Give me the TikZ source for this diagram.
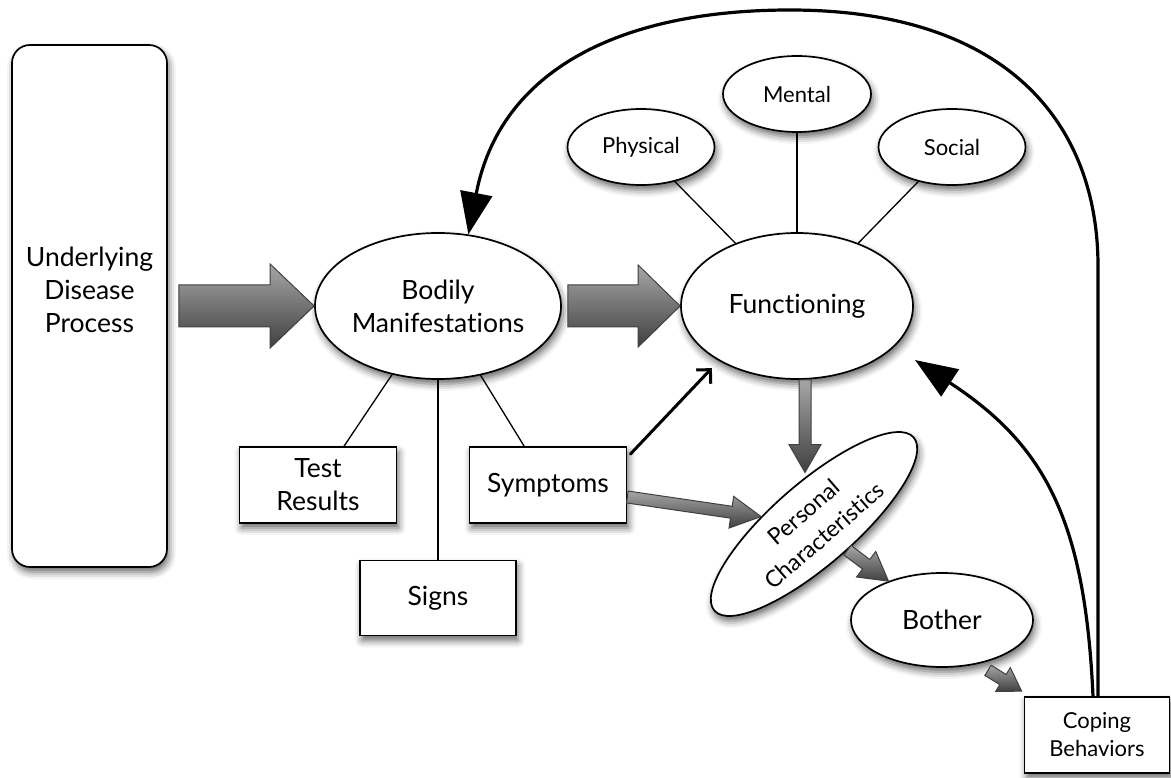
\documentclass[tikz,border=0pt]{standalone}
\usepackage{fontspec}
\setmainfont{Lato}[Ligatures={NoCommon}]
\usepackage{tikz}
\usetikzlibrary{arrows.meta, calc, shapes.geometric, shadows.blur}

\newcommand{\bigfont}{\fontsize{26.5}{33}\selectfont}
\newcommand{\smallfont}{\fontsize{22}{28}\selectfont}
\newcommand{\tiltfont}{\fontsize{23}{31}\selectfont}

\tikzset{
	box/.style={draw, line width=1.7pt, fill=white, align=center, inner sep=0pt, font=\bigfont,
		blur shadow={shadow xshift=2pt, shadow yshift=-5pt, shadow blur radius=7pt, shadow opacity=60}},
	bubble/.style={box, ellipse},
	link/.style={line width=1.3pt},
	loop arrow/.style={line width=3.2pt, -{Triangle[length=42pt, width=32pt]}},
	fat arrow/.style={line width=1pt, draw=black!75, top color=black!35, bottom color=black!75, line join=miter},
}

% fat gray arrow: from, to, half shaft, half head, head length
\newcommand{\fatarrow}[5]{%
	\coordinate (fa-a) at (#1);
	\coordinate (fa-b) at (#2);
	\coordinate (fa-c) at ($(fa-b)!#5!(fa-a)$);
	\path[fat arrow] ($(fa-a)!#3!90:(fa-b)$) -- ($(fa-c)!#3!-90:(fa-a)$) -- ($(fa-c)!#4!-90:(fa-a)$) -- (fa-b)
		-- ($(fa-c)!#4!90:(fa-a)$) -- ($(fa-c)!#3!90:(fa-a)$) -- ($(fa-a)!#3!-90:(fa-b)$) -- cycle;
}

\begin{document}
\begin{tikzpicture}[x=1pt, y=-1pt, line cap = round]
	\useasboundingbox (0,0) rectangle (1171,778);

	\node[box, rounded corners=18pt, minimum width=155pt, minimum height=522pt] (und) at (89.5,306) {Underlying\\Disease\\Process\\\mbox{}};
	\node[bubble, minimum width=246pt, minimum height=146pt] (bodily) at (438,306) {Bodily\\Manifestations};
	\node[bubble, minimum width=232pt, minimum height=146pt] (func) at (797,306) {Functioning};

	\node[bubble, font=\smallfont, minimum width=147pt, minimum height=76pt] (phys) at (641,147) {Physical};
	\node[bubble, font=\smallfont, minimum width=148pt, minimum height=76pt] (ment) at (797,94) {Mental};
	\node[bubble, font=\smallfont, minimum width=147pt, minimum height=76pt] (soc) at (952,147) {Social};

	\node[box, minimum width=157pt, minimum height=76pt] (test) at (318,485) {Test\\Results};
	\node[box, minimum width=157pt, minimum height=76pt] (sym) at (548,485) {Symptoms};
	\node[box, minimum width=156pt, minimum height=75pt] (signs) at (438,598) {Signs};

	\node[bubble, font=\tiltfont, rotate=41, minimum width=264pt, minimum height=82pt] (pers) at (814,524) {Personal\\Characteristics};
	\node[bubble, minimum width=182pt, minimum height=94pt] (bother) at (942,620) {Bother};
	\node[box, font=\smallfont, minimum width=145pt, minimum height=76pt] (cop) at (1097,735) {Coping\\Behaviors};

	\draw[link] (phys) -- (func);
	\draw[link] (ment) -- (func);
	\draw[link] (soc) -- (func);
	\draw[link] (bodily) -- (test);
	\draw[link] (bodily) -- (signs);
	\draw[link] (bodily) -- (sym);

	\fatarrow{[xshift=11pt]und.east}{bodily.west}{21pt}{42pt}{44pt}
	\fatarrow{[xshift=6pt]bodily.east}{func.west}{21pt}{41pt}{42pt}
	\coordinate (fp) at ([xshift=8pt]func.south);
	\fatarrow{fp}{fp |- pers.52}{6pt}{16pt}{28pt}
	\fatarrow{[yshift=-12pt]sym.east}{pers.131}{6pt}{16pt}{30pt}
	\fatarrow{pers.-79}{bother.144}{6pt}{16pt}{28pt}
	\fatarrow{[shift={(7pt,-7pt)}]bother.-48}{[shift={(-2pt,5pt)}]cop.north west}{6pt}{14pt}{22pt}

	\draw[line width=3pt, shorten >=10pt, -{Straight Barb[length=10pt, width=20pt]}] ([shift={(3pt,-8pt)}]sym.north east) -- (func.215);

	\coordinate (cope tip) at (915,360);
	\draw[loop arrow] ([xshift=1pt]cop.north) -- ++(0,-430) .. controls +(0,-140) and (1010,10) .. (790,10)
		.. controls (620,10) and (500,70) .. (bodily.67);
	\draw[loop arrow] ([xshift=-4pt]cop.north) .. controls (1085,520) and (1045,445) .. (cope tip);

\end{tikzpicture}
\end{document}
